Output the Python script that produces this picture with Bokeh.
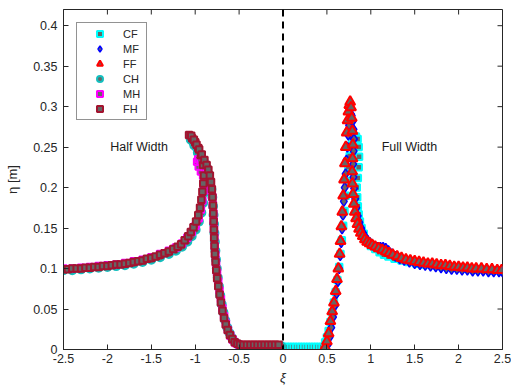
import math
from bokeh.plotting import figure
from bokeh.models import Range1d, FixedTicker, Span, Label
from bokeh.embed import file_html
from bokeh.resources import INLINE

# ---------------- data ----------------
# Full width series (xi > 0)
xi_CF = [0.0, 0.03, 0.06, 0.09, 0.12, 0.15, 0.18, 0.21, 0.24, 0.27, 0.3, 0.33, 0.36, 0.39, 0.42, 0.45,
         0.48, 0.5, 0.52, 0.54, 0.56, 0.58, 0.6, 0.62, 0.64, 0.655,
         0.67, 0.685, 0.7, 0.715, 0.73, 0.745, 0.76, 0.775, 0.79, 0.81,
         0.83, 0.85, 0.862, 0.866, 0.862, 0.852, 0.84, 0.845, 0.852, 0.862,
         0.876, 0.895, 0.92, 0.96, 1.0, 1.05, 1.1, 1.15, 1.2, 1.27, 1.35,
         1.43, 1.52, 1.61, 1.7, 1.8, 1.9, 2.0, 2.1, 2.2, 2.3,
         2.4, 2.5]
eta_CF = [0.003, 0.003, 0.003, 0.003, 0.003, 0.003, 0.003, 0.003, 0.003, 0.003, 0.003, 0.003, 0.003, 0.003, 0.003, 0.003,
          0.009, 0.015, 0.023, 0.034, 0.046, 0.058, 0.071, 0.086, 0.102, 0.118,
          0.135, 0.153, 0.171, 0.19, 0.208, 0.225, 0.239, 0.25, 0.256, 0.26,
          0.263, 0.26, 0.25, 0.238, 0.225, 0.212, 0.2, 0.188, 0.177, 0.167,
          0.158, 0.15, 0.143, 0.133, 0.128, 0.124, 0.12, 0.117, 0.115, 0.112, 0.11,
          0.108, 0.106, 0.105, 0.104, 0.103, 0.102, 0.101, 0.1, 0.099, 0.099,
          0.098, 0.098]

xi_MF = [0.49, 0.51, 0.53, 0.55, 0.57, 0.59, 0.61,
         0.625, 0.64, 0.652, 0.663, 0.673, 0.683, 0.693, 0.703, 0.713, 0.723,
         0.733, 0.743, 0.753, 0.763, 0.773, 0.783, 0.793, 0.803, 0.808, 0.805,
         0.8, 0.802, 0.81, 0.822, 0.836, 0.852, 0.87, 0.89, 0.912, 0.936,
         0.962, 0.99, 1.02, 1.05, 1.08, 1.11, 1.14, 1.17, 1.2, 1.24,
         1.28, 1.33, 1.38, 1.44, 1.5, 1.56, 1.62, 1.68, 1.74, 1.8,
         1.86, 1.92, 1.98, 2.04, 2.1, 2.16, 2.22, 2.28, 2.34, 2.4,
         2.46, 2.5]
eta_MF = [0.0, 0.006, 0.015, 0.027, 0.04, 0.054, 0.069,
          0.084, 0.1, 0.116, 0.132, 0.149, 0.166, 0.183, 0.2, 0.217, 0.234,
          0.25, 0.265, 0.277, 0.286, 0.291, 0.289, 0.282, 0.272, 0.26, 0.245,
          0.229, 0.213, 0.199, 0.186, 0.175, 0.165, 0.157, 0.15, 0.144, 0.139,
          0.135, 0.132, 0.129, 0.127, 0.126, 0.126, 0.126, 0.125, 0.122, 0.118,
          0.115, 0.112, 0.11, 0.108, 0.106, 0.105, 0.104, 0.103, 0.102, 0.101,
          0.1, 0.099, 0.099, 0.098, 0.098, 0.097, 0.097, 0.097, 0.096, 0.096,
          0.096, 0.096]

xi_FF = [0.48, 0.50, 0.52, 0.54, 0.56, 0.58, 0.60,
         0.615, 0.63, 0.645, 0.655, 0.665, 0.675, 0.685, 0.695, 0.705, 0.715,
         0.725, 0.735, 0.745, 0.755, 0.765, 0.775, 0.783, 0.79, 0.795, 0.792,
         0.788, 0.79, 0.797, 0.806, 0.818, 0.832, 0.848, 0.866, 0.886, 0.908,
         0.932, 0.958, 0.986, 1.016, 1.05, 1.09, 1.13, 1.17, 1.21, 1.25,
         1.3, 1.35, 1.4, 1.45, 1.5, 1.55, 1.6, 1.65, 1.7, 1.75,
         1.8, 1.85, 1.9, 1.95, 2.0, 2.05, 2.1, 2.15, 2.2, 2.26,
         2.32, 2.38, 2.44, 2.49]
eta_FF = [0.003, 0.01, 0.02, 0.035, 0.047, 0.058, 0.072,
          0.087, 0.1, 0.118, 0.134, 0.152, 0.17, 0.19, 0.21, 0.23, 0.25,
          0.268, 0.283, 0.294, 0.302, 0.306, 0.299, 0.286, 0.27, 0.253, 0.236,
          0.22, 0.205, 0.192, 0.18, 0.17, 0.162, 0.155, 0.149, 0.144, 0.14,
          0.136, 0.133, 0.131, 0.129, 0.127, 0.125, 0.123, 0.121, 0.119, 0.117,
          0.115, 0.113, 0.111, 0.11, 0.109, 0.108, 0.107, 0.106, 0.106, 0.105,
          0.104, 0.104, 0.103, 0.102, 0.102, 0.101, 0.101, 0.1, 0.1, 0.1,
          0.099, 0.099, 0.098, 0.098]

# Half width series (xi < 0)
xi_CH = [-2.5, -2.4, -2.3, -2.2, -2.1, -2.0, -1.9, -1.8, -1.7, -1.6, -1.5, -1.4, -1.3,
         -1.22, -1.15, -1.09, -1.04, -0.995, -0.958, -0.93, -0.91, -0.895, -0.885,
         -0.9, -0.93, -0.97, -1.01, -1.05, -1.02, -0.98, -0.94, -0.905, -0.875,
         -0.85, -0.83, -0.815, -0.805, -0.797, -0.791, -0.786, -0.781, -0.776, -0.77,
         -0.763, -0.754, -0.743, -0.73, -0.715, -0.698, -0.679, -0.658, -0.634, -0.607,
         -0.578, -0.546, -0.51, -0.46, -0.41, -0.36, -0.31, -0.26, -0.21, -0.16,
         -0.11, -0.06, -0.02]
eta_CH = [0.098, 0.098, 0.099, 0.1, 0.101, 0.102, 0.103, 0.104, 0.106, 0.108, 0.111, 0.114, 0.118,
          0.122, 0.127, 0.133, 0.14, 0.148, 0.158, 0.169, 0.181, 0.194, 0.207,
          0.22, 0.232, 0.243, 0.252, 0.259, 0.256, 0.249, 0.241, 0.233, 0.225,
          0.217, 0.208, 0.198, 0.188, 0.177, 0.166, 0.155, 0.144, 0.133, 0.122,
          0.111, 0.1, 0.089, 0.078, 0.067, 0.056, 0.046, 0.036, 0.027, 0.02,
          0.014, 0.009, 0.006, 0.004, 0.004, 0.004, 0.004, 0.004, 0.004, 0.004,
          0.004, 0.004, 0.004]

xi_MH = [-2.5, -2.4, -2.3, -2.2, -2.1, -2.0, -1.9, -1.8, -1.7, -1.6, -1.5, -1.4, -1.3,
         -1.22, -1.15, -1.09, -1.04, -0.995, -0.96, -0.935, -0.918, -0.905, -0.898,
         -0.91, -0.935, -0.96, -0.978, -0.965, -0.94, -0.915, -0.89, -0.865, -0.845,
         -0.828, -0.815, -0.806, -0.799, -0.794, -0.79, -0.786, -0.782, -0.777, -0.77,
         -0.762, -0.751, -0.738, -0.723, -0.707, -0.69, -0.671, -0.65, -0.627, -0.6,
         -0.572, -0.54, -0.5, -0.45, -0.4, -0.35, -0.3, -0.25, -0.2, -0.15,
         -0.1, -0.06]
eta_MH = [0.1, 0.1, 0.101, 0.102, 0.103, 0.104, 0.105, 0.107, 0.109, 0.111, 0.114, 0.118, 0.122,
          0.126, 0.131, 0.138, 0.145, 0.153, 0.162, 0.173, 0.184, 0.196, 0.208,
          0.215, 0.22, 0.226, 0.232, 0.235, 0.232, 0.228, 0.224, 0.219, 0.213,
          0.206, 0.198, 0.189, 0.179, 0.169, 0.159, 0.149, 0.139, 0.128, 0.117,
          0.106, 0.095, 0.084, 0.073, 0.062, 0.051, 0.041, 0.032, 0.024, 0.017,
          0.012, 0.008, 0.006, 0.005, 0.005, 0.005, 0.005, 0.005, 0.005, 0.005,
          0.005, 0.005]

xi_FH = [-2.5, -2.45, -2.4, -2.35, -2.3, -2.25, -2.2, -2.15, -2.1, -2.05,
         -2.0, -1.95, -1.9, -1.85, -1.8, -1.75, -1.7, -1.65, -1.6, -1.55,
         -1.5, -1.45, -1.4, -1.35, -1.3, -1.25, -1.2,
         -1.16, -1.12, -1.08, -1.05, -1.02, -0.99, -0.965, -0.945, -0.93, -0.918,
         -0.908, -0.9, -0.91, -0.935, -0.965, -1.0, -1.035, -1.07, -1.045, -1.015,
         -0.985, -0.955, -0.925, -0.895, -0.87, -0.85, -0.833, -0.82, -0.81, -0.803,
         -0.798, -0.794, -0.79, -0.787, -0.784, -0.78, -0.776,
         -0.768, -0.76, -0.75, -0.737, -0.722, -0.707, -0.69, -0.672, -0.652, -0.63,
         -0.605, -0.578, -0.55, -0.52,
         -0.49, -0.45, -0.41, -0.37, -0.33, -0.29, -0.25, -0.21, -0.17, -0.13, -0.09, -0.05]
eta_FH = [0.099, 0.099, 0.1, 0.1, 0.1, 0.101, 0.101, 0.102, 0.102, 0.103,
          0.103, 0.104, 0.105, 0.105, 0.106, 0.107, 0.108, 0.109, 0.11, 0.112,
          0.113, 0.115, 0.117, 0.119, 0.121, 0.124, 0.127,
          0.13, 0.135, 0.14, 0.145, 0.151, 0.158, 0.166, 0.175, 0.185, 0.195,
          0.205, 0.215, 0.228, 0.24, 0.249, 0.256, 0.261, 0.265, 0.264, 0.259,
          0.253, 0.247, 0.241, 0.234, 0.228, 0.222, 0.215, 0.207, 0.198, 0.188,
          0.178, 0.168, 0.158, 0.148, 0.138, 0.128, 0.118,
          0.108, 0.098, 0.088, 0.078, 0.068, 0.058, 0.048, 0.039, 0.031, 0.024,
          0.018, 0.013, 0.009, 0.007,
          0.006, 0.006, 0.006, 0.006, 0.006, 0.006, 0.006, 0.006, 0.006, 0.006, 0.006, 0.006]

x_ticks = [-2.5, -2.0, -1.5, -1.0, -0.5, 0.0, 0.5, 1.0, 1.5, 2.0, 2.5]
x_tick_labels = ["-2.5", "-2", "-1.5", "-1", "-0.5", "0", "0.5", "1", "1.5", "2", "2.5"]
y_ticks = [0.0, 0.05, 0.1, 0.15, 0.2, 0.25, 0.3, 0.35, 0.4]
y_tick_labels = ["0", "0.05", "0.1", "0.15", "0.2", "0.25", "0.3", "0.35", "0.4"]

x_min, x_max = -2.5, 2.5
y_min, y_max = 0.0, 0.42
divider_xi = 0.0
annotations = [("Half Width", -1.64, 0.25), ("Full Width", 1.44, 0.25)]

# ---------------- figure ----------------
FONT = "Liberation Sans"
AX = "#262626"
GRAY = "#666666"

p = figure(width=511, height=387, output_backend="svg", toolbar_location=None,
           x_range=Range1d(x_min, x_max), y_range=Range1d(y_min, y_max),
           min_border_left=63, min_border_right=9, min_border_top=9, min_border_bottom=37,
           background_fill_color="white", border_fill_color="white")
p.xgrid.visible = False
p.ygrid.visible = False
p.outline_line_color = AX
p.outline_line_width = 1

for ax, ticks, labels in ((p.xaxis[0], x_ticks, x_tick_labels), (p.yaxis[0], y_ticks, y_tick_labels)):
    ax.ticker = FixedTicker(ticks=ticks)
    ax.major_tick_in = 5
    ax.major_tick_out = 0
    ax.minor_tick_line_color = None
    ax.axis_line_color = AX
    ax.major_tick_line_color = AX
    ax.major_label_overrides = {t: l for t, l in zip(ticks, labels)}
    ax.major_label_text_font = FONT
    ax.major_label_text_font_size = "12.5px"
    ax.major_label_text_color = AX

p.xaxis[0].major_label_standoff = 4
p.yaxis[0].major_label_standoff = 6

p.xaxis[0].axis_label = "ξ"
p.xaxis[0].axis_label_text_font = FONT
p.xaxis[0].axis_label_text_font_style = "italic"
p.xaxis[0].axis_label_text_font_size = "13px"
p.xaxis[0].axis_label_text_color = AX
p.xaxis[0].axis_label_standoff = 4

p.yaxis[0].axis_label = "η [m]"
p.yaxis[0].axis_label_text_font = FONT
p.yaxis[0].axis_label_text_font_style = "normal"
p.yaxis[0].axis_label_text_font_size = "13px"
p.yaxis[0].axis_label_text_color = AX
p.yaxis[0].axis_label_standoff = 10

# inward ticks on the top and right frame edges
p.ray(x=x_ticks, y=[y_max] * len(x_ticks), length=5, length_units="screen",
      angle=-math.pi / 2, line_color=AX, line_width=1)
p.ray(x=[x_max] * len(y_ticks), y=y_ticks, length=5, length_units="screen",
      angle=math.pi, line_color=AX, line_width=1)

# series (drawing order as in the legend)
p.scatter(xi_CF, eta_CF, marker="square", size=6.5, line_width=2,
          line_color="#00ffff", fill_color=GRAY, legend_label="CF")
p.scatter(xi_MF, eta_MF, marker="diamond", size=10, line_width=1.5,
          line_color="#0000ff", fill_color=GRAY, legend_label="MF")
p.scatter(xi_FF, eta_FF, marker="triangle", size=10, line_width=2,
          line_color="#ff0000", fill_color=GRAY, legend_label="FF")
p.scatter(xi_CH, eta_CH, marker="circle", size=8, line_width=2,
          line_color="#14bfbf", fill_color=GRAY, legend_label="CH")
p.scatter(xi_MH, eta_MH, marker="square", size=6.5, line_width=2,
          line_color="#ff00ff", fill_color=GRAY, legend_label="MH")
p.scatter(xi_FH, eta_FH, marker="square", size=6.5, line_width=2,
          line_color="#a2142f", fill_color=GRAY, legend_label="FH")

p.add_layout(Span(location=divider_xi, dimension="height", line_color="black",
                  line_dash="7 5", line_width=2))

for txt, tx, ty in annotations:
    p.add_layout(Label(x=tx, y=ty, text=txt, text_align="center", text_baseline="middle",
                       text_font=FONT, text_font_size="12.5px", text_color="#1a1a1a"))

lg = p.legend[0]
lg.location = "top_left"
lg.margin = 13
lg.padding = 3
lg.spacing = 0
lg.glyph_width = 39
lg.glyph_height = 15
lg.label_height = 15
lg.label_standoff = 4
lg.label_text_font = FONT
lg.label_text_font_size = "11px"
lg.label_text_color = AX
lg.border_line_color = AX
lg.border_line_width = 1
lg.background_fill_alpha = 1.0

open("out.html", "w").write(file_html(p, INLINE))
